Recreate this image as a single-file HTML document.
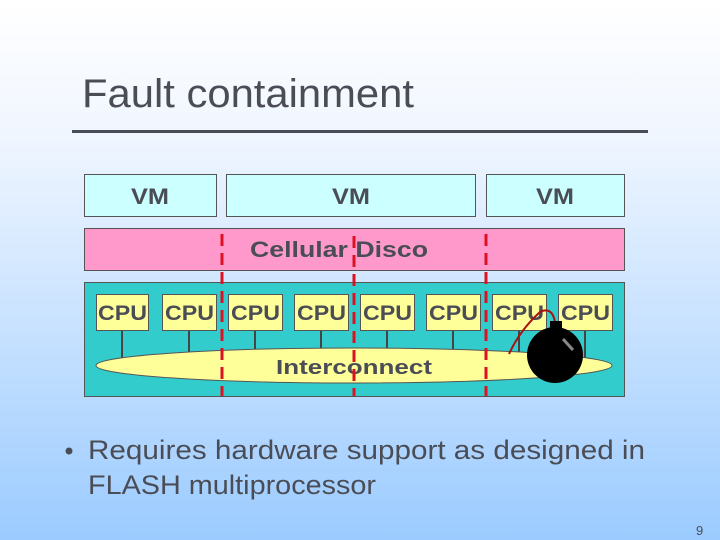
<!DOCTYPE html>
<html><head><style>html,body{margin:0;padding:0;width:720px;height:540px;overflow:hidden}</style></head>
<body>
<svg width="720" height="540" xmlns="http://www.w3.org/2000/svg" font-family="Liberation Sans, sans-serif">
<defs><linearGradient id="bg" x1="0" y1="0" x2="0" y2="1"><stop offset="0" stop-color="#ffffff"/><stop offset="0.25" stop-color="#f0f6ff"/><stop offset="1" stop-color="#9bcbff"/></linearGradient></defs>
<rect width="720" height="540" fill="url(#bg)"/>
<text x="82" y="107" font-size="40" fill="#4a4d55" textLength="332" lengthAdjust="spacingAndGlyphs">Fault containment</text>
<rect x="72" y="130" width="576" height="3" fill="#4a4d55"/>
<g stroke="#555" stroke-width="1" fill="#ccffff">
<rect x="84.5" y="174.5" width="132" height="42"/>
<rect x="226.5" y="174.5" width="249" height="42"/>
<rect x="486.5" y="174.5" width="138" height="42"/>
<rect x="84.5" y="228.5" width="540" height="42" fill="#ff99cc"/>
<rect x="84.5" y="282.5" width="540" height="114" fill="#33cccc"/>
</g>
<g font-weight="bold" font-size="22" fill="#4a4d55">
<text x="131" y="204" textLength="38" lengthAdjust="spacingAndGlyphs">VM</text>
<text x="332" y="204" textLength="38" lengthAdjust="spacingAndGlyphs">VM</text>
<text x="536" y="204" textLength="38" lengthAdjust="spacingAndGlyphs">VM</text>
<text x="250" y="257" textLength="178" lengthAdjust="spacingAndGlyphs">Cellular Disco</text>
</g>
<g stroke="#444" stroke-width="2">
<line x1="122" y1="330" x2="122" y2="360"/><line x1="189" y1="330" x2="189" y2="352"/>
<line x1="255" y1="330" x2="255" y2="350"/><line x1="321" y1="330" x2="321" y2="350"/>
<line x1="387" y1="330" x2="387" y2="350"/><line x1="453" y1="330" x2="453" y2="350"/>
<line x1="519" y1="330" x2="519" y2="352"/><line x1="585" y1="330" x2="585" y2="360"/>
</g>
<ellipse cx="354" cy="365.5" rx="258" ry="17.5" fill="#ffff99" stroke="#555"/>
<g stroke="#555" fill="#ffff99">
<rect x="96.5" y="294.5" width="52" height="36"/><rect x="162.5" y="294.5" width="54" height="36"/>
<rect x="228.5" y="294.5" width="54" height="36"/><rect x="294.5" y="294.5" width="54" height="36"/>
<rect x="360.5" y="294.5" width="54" height="36"/><rect x="426.5" y="294.5" width="54" height="36"/>
<rect x="492.5" y="294.5" width="54" height="36"/><rect x="558.5" y="294.5" width="54" height="36"/>
</g>
<g font-weight="bold" font-size="21" fill="#4a4d55">
<text x="98" y="320" textLength="49" lengthAdjust="spacingAndGlyphs">CPU</text>
<text x="165" y="320" textLength="49" lengthAdjust="spacingAndGlyphs">CPU</text>
<text x="231" y="320" textLength="49" lengthAdjust="spacingAndGlyphs">CPU</text>
<text x="297" y="320" textLength="49" lengthAdjust="spacingAndGlyphs">CPU</text>
<text x="363" y="320" textLength="49" lengthAdjust="spacingAndGlyphs">CPU</text>
<text x="429" y="320" textLength="49" lengthAdjust="spacingAndGlyphs">CPU</text>
<text x="495" y="320" textLength="49" lengthAdjust="spacingAndGlyphs">CPU</text>
<text x="561" y="320" textLength="49" lengthAdjust="spacingAndGlyphs">CPU</text>
<text x="276" y="374" font-size="20" textLength="156" lengthAdjust="spacingAndGlyphs">Interconnect</text>
</g>
<g stroke="#dd1122" stroke-width="3" stroke-dasharray="12,7">
<line x1="222" y1="234" x2="222" y2="396"/><line x1="354" y1="236" x2="354" y2="396"/><line x1="486" y1="234" x2="486" y2="396"/>
</g>
<path d="M509 354 Q520 330 540 312 Q552 306 555 322" fill="none" stroke="#aa1111" stroke-width="2"/>
<ellipse cx="555" cy="355" rx="28" ry="28" fill="#000"/>
<rect x="550" y="321" width="12" height="12" fill="#000"/>
<line x1="563" y1="339" x2="573" y2="350" stroke="#888" stroke-width="3"/>
<circle cx="69" cy="451" r="3.5" fill="#4a4d55"/>
<g font-size="27" fill="#4a4d55">
<text x="88" y="459" textLength="557" lengthAdjust="spacingAndGlyphs">Requires hardware support as designed in</text>
<text x="88" y="494" textLength="288" lengthAdjust="spacingAndGlyphs">FLASH multiprocessor</text>
</g>
<text x="696" y="535" font-size="13" fill="#4a4d55">9</text>
</svg>
</body></html>
